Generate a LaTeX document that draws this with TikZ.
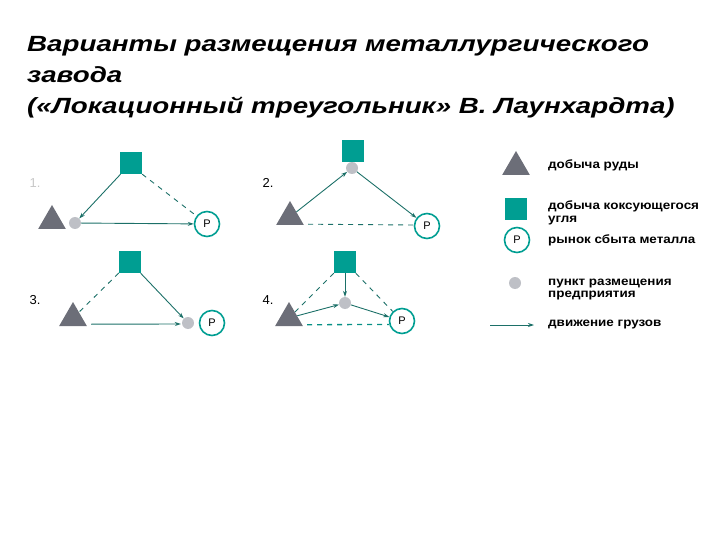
\documentclass[tikz,border=0pt]{standalone}
\usepackage{fontspec}
\setmainfont{Liberation Sans}
\newfontfamily\titlefont[FakeStretch=1.26]{Liberation Sans}
\newfontfamily\legendfont[FakeStretch=1.12]{Liberation Sans}
\usepackage{tikz}
\usetikzlibrary{shapes.geometric, arrows.meta}
\definecolor{LTeal}{RGB}{0,158,146}
\definecolor{LTealDark}{RGB}{28,112,104}
\definecolor{LGray}{RGB}{108,110,120}
\definecolor{LDot}{RGB}{190,192,198}
\definecolor{LLabel}{RGB}{200,200,200}

\begin{document}
\begin{tikzpicture}[x=1pt, y=-1pt,
      ore/.style={regular polygon, regular polygon sides=3, fill=LGray,
                  minimum size=32pt, inner sep=0pt},
      coal/.style={rectangle, fill=LTeal, minimum size=22pt, inner sep=0pt},
      plant/.style={circle, fill=LDot, minimum size=12pt, inner sep=0pt},
      mkt/.style={circle, draw=LTeal, line width=1.6pt, fill=white,
                  minimum size=25pt, inner sep=0pt,
                  font=\fontsize{11}{11}\selectfont},
      move/.style={-{Stealth[length=6pt, width=4pt]}, draw=LTealDark, line width=0.9pt},
      empty/.style={draw=LTealDark, line width=0.9pt, dash pattern=on 5pt off 5pt},
      num/.style={font=\fontsize{13}{13}\selectfont, anchor=west},
      lgd/.style={font=\legendfont\fontsize{12}{12.5}\selectfont\bfseries, anchor=west,
                  align=left, inner sep=0pt}
    ]
    \useasboundingbox (0,0) rectangle (720,540);

    % title
    \node[anchor=base west, inner sep=0pt, align=left,
          font=\titlefont\fontsize{22}{31}\selectfont\bfseries\itshape] (title) at (27,114)
          {Варианты размещения металлургического\\завода\\(«Локационный треугольник» В. Лаунхардта)};

    % 1.
    \node[num, text=LLabel] (n1) at (26,183) {1.};
    \node[coal]  (sq1) at (131,163) {};
    \node[ore]   (tr1) at (52,221) {};
    \node[plant] (pl1) at (75,223) {};
    \node[mkt]   (mk1) at (207,224) {Р};
    \draw[move]  (sq1) -- (pl1);
    \draw[move]  (pl1) -- (mk1);
    \draw[empty] (sq1.south east) -- (mk1);

    % 2.
    \node[num] (n2) at (259,183) {2.};
    \node[coal]  (sq2) at (353,151) {};
    \node[plant] (pl2) at (352,168) {};
    \node[ore]   (tr2) at (290,217) {};
    \node[mkt]   (mk2) at (427,226) {Р};
    \draw[move]  (tr2) -- (pl2);
    \draw[move]  (pl2) -- (mk2);
    \draw[empty] ([shift={(4,-1)}]tr2.corner 3) -- ([shift={(0,-1)}]mk2.west);

    % 3.
    \node[num] (n3) at (26,300) {3.};
    \node[coal]  (sq3) at (130,262) {};
    \node[ore]   (tr3) at (73,318) {};
    \node[plant] (pl3) at (188,323) {};
    \node[mkt]   (mk3) at (212,323) {Р};
    \draw[empty] (sq3) -- (tr3);
    \draw[move]  (sq3) -- (pl3);
    \draw[move]  ([shift={(4,-2)}]tr3.corner 3) -- ([shift={(-1,1)}]pl3.west);

    % 4.
    \node[num] (n4) at (259,300) {4.};
    \node[coal]  (sq4) at (345,262) {};
    \node[plant] (pl4) at (345,303) {};
    \node[ore]   (tr4) at (289,318) {};
    \node[mkt]   (mk4) at (402,321) {Р};
    \draw[move]  (sq4) -- (pl4);
    \draw[move]  (tr4) -- (pl4);
    \draw[move]  (pl4) -- (mk4);
    \draw[empty] (sq4) -- (tr4);
    \draw[empty] (sq4) -- (mk4);
    \draw[empty, draw=LTeal!70!LTealDark, line width=1.3pt]
         ([shift={(4,-1.5)}]tr4.corner 3) -- ([shift={(0.5,3.5)}]mk4.west);

    % legend
    \node[ore]   (lo) at (516,167) {};
    \node[lgd]   (lot) at (548,165) {добыча руды};
    \node[coal]  (lc) at (516,209) {};
    \node[lgd]   (lct) at (548,213) {добыча коксующегося\\угля};
    \node[mkt]   (lm) at (517,240) {Р};
    \node[lgd]   (lmt) at (548,240) {рынок сбыта металла};
    \node[plant] (lp) at (515,283) {};
    \node[lgd]   (lpt) at (548,289.5) {пункт размещения\\предприятия};
    \coordinate (la) at (490,325);
    \node[lgd]   (lat) at (548,325) {движение грузов};
    \draw[move]  (la) -- ([xshift=-14pt]lat.west);
  \end{tikzpicture}
\end{document}
